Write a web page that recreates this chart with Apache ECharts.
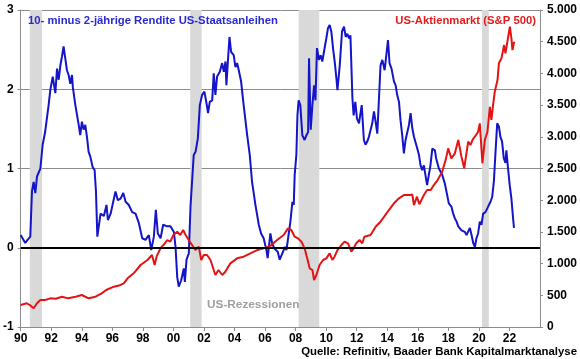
<!DOCTYPE html>
<html>
<head>
<meta charset="utf-8">
<script src="https://cdn.jsdelivr.net/npm/echarts@6/dist/echarts.min.js"></script>
<style>
html,body{margin:0;padding:0;background:#fff;}
#chart{width:580px;height:359px;}
</style>
</head>
<body>
<div id="chart"></div>
<script>
// 10y minus 2y US Treasury spread (left axis, percentage points)
const spreadYears = [1990.0,1990.08,1990.3,1990.45,1990.63,1990.74,1990.85,1990.96,1991.07,1991.29,1991.44,1991.6,1991.83,1991.94,1992.05,1992.1,1992.27,1992.38,1992.49,1992.6,1992.7,1992.81,1992.92,1993.03,1993.14,1993.25,1993.36,1993.42,1993.58,1993.8,1993.9,1994.01,1994.12,1994.23,1994.34,1994.45,1994.56,1994.71,1994.84,1994.93,1995.02,1995.23,1995.35,1995.45,1995.62,1995.71,1995.89,1996.06,1996.21,1996.36,1996.54,1996.72,1996.87,1997.08,1997.3,1997.52,1997.74,1997.96,1998.17,1998.39,1998.55,1998.72,1998.85,1998.98,1999.16,1999.33,1999.59,1999.81,2000.03,2000.14,2000.25,2000.35,2000.51,2000.68,2000.75,2000.86,2001.01,2001.12,2001.33,2001.45,2001.6,2001.73,2001.88,2002.03,2002.17,2002.27,2002.38,2002.54,2002.64,2002.75,2002.86,2003.04,2003.19,2003.3,2003.41,2003.47,2003.56,2003.67,2003.78,2003.95,2004.06,2004.17,2004.28,2004.43,2004.6,2004.83,2005.0,2005.15,2005.37,2005.59,2005.74,2005.91,2006.09,2006.17,2006.35,2006.46,2006.61,2006.83,2006.96,2007.18,2007.29,2007.4,2007.51,2007.66,2007.79,2007.88,2007.94,2008.05,2008.12,2008.2,2008.31,2008.44,2008.59,2008.71,2008.82,2008.88,2008.99,2009.1,2009.21,2009.3,2009.4,2009.53,2009.64,2009.75,2009.9,2010.01,2010.12,2010.23,2010.34,2010.45,2010.56,2010.67,2010.74,2010.89,2011.04,2011.17,2011.28,2011.39,2011.5,2011.59,2011.72,2011.8,2011.91,2012.02,2012.15,2012.33,2012.47,2012.58,2012.69,2012.8,2012.91,2013.02,2013.13,2013.24,2013.35,2013.46,2013.56,2013.68,2013.83,2013.94,2014.05,2014.15,2014.28,2014.44,2014.55,2014.65,2014.77,2014.87,2014.98,2015.09,2015.2,2015.31,2015.42,2015.53,2015.64,2015.75,2015.85,2015.97,2016.08,2016.18,2016.29,2016.4,2016.5,2016.61,2016.72,2016.83,2016.95,2017.12,2017.2,2017.38,2017.6,2017.77,2017.92,2018.03,2018.2,2018.32,2018.43,2018.54,2018.65,2018.76,2018.86,2018.97,2019.08,2019.19,2019.3,2019.41,2019.52,2019.63,2019.74,2019.84,2019.95,2020.06,2020.17,2020.28,2020.43,2020.56,2020.65,2020.76,2020.87,2020.98,2021.09,2021.2,2021.31,2021.41,2021.52,2021.63,2021.74,2021.8,2021.91,2022.02,2022.13,2022.24,2022.3];
const spreadValues = [0.16,0.16,0.06,0.1,0.14,0.71,0.83,0.69,0.9,1.0,1.3,1.46,1.8,1.99,1.97,2.16,1.95,2.26,2.12,2.3,2.41,2.54,2.39,2.24,2.18,2.07,2.18,2.02,1.8,1.55,1.42,1.59,1.49,1.55,1.4,1.21,1.15,1.02,0.98,0.71,0.14,0.43,0.45,0.4,0.54,0.35,0.43,0.58,0.71,0.6,0.62,0.69,0.58,0.54,0.45,0.43,0.31,0.12,0.1,0.16,-0.03,0.14,0.48,0.18,0.12,0.29,0.27,0.27,0.2,0.01,-0.37,-0.49,-0.41,-0.26,-0.43,-0.15,-0.07,0.52,1.17,1.21,1.38,1.8,1.93,1.97,1.82,1.7,1.84,1.86,2.2,1.93,2.16,2.22,2.33,2.22,2.35,2.05,2.33,2.66,2.47,2.43,2.28,2.33,2.24,2.1,1.8,1.42,1.17,0.83,0.54,0.29,0.18,0.12,-0.03,-0.13,0.18,0.06,-0.01,-0.05,-0.15,-0.05,0.01,-0.03,0.12,0.33,0.58,0.54,0.92,1.17,1.67,1.86,1.8,1.42,1.36,1.42,1.46,2.39,1.49,1.8,2.05,1.86,2.52,2.37,2.43,2.35,2.52,2.64,2.77,2.81,2.73,2.52,2.35,2.14,1.99,2.3,2.73,2.79,2.66,2.7,2.64,2.68,1.89,1.67,1.84,1.63,1.57,1.8,1.36,1.3,1.34,1.4,1.38,1.57,1.72,1.59,1.44,1.89,2.3,2.37,2.24,2.43,2.62,2.33,2.26,2.1,2.05,1.93,1.84,1.61,1.42,1.19,1.36,1.36,1.55,1.7,1.51,1.4,1.38,1.25,1.17,1.04,0.98,1.04,0.92,0.79,0.77,1.04,1.25,1.23,1.13,1.0,0.92,0.81,0.67,0.56,0.52,0.43,0.37,0.33,0.27,0.27,0.22,0.2,0.2,0.16,0.18,0.25,0.16,0.06,0.01,0.12,0.18,0.33,0.29,0.43,0.45,0.5,0.48,0.58,0.64,0.83,1.21,1.57,1.53,1.4,1.34,1.13,1.07,1.23,1.0,0.79,0.62,0.37,0.25];

// S&P 500 index level (right axis)
const sp500Years = [1990.0,1990.4,1990.6,1990.85,1991.07,1991.29,1991.6,1991.94,1992.3,1992.7,1993.1,1993.6,1994.0,1994.45,1994.9,1995.3,1995.6,1996.1,1996.5,1996.75,1997.0,1997.4,1997.85,1998.3,1998.6,1998.77,1998.9,1999.15,1999.35,1999.6,1999.8,2000.0,2000.25,2000.45,2000.64,2000.8,2001.0,2001.22,2001.44,2001.66,2001.82,2001.99,2002.2,2002.43,2002.64,2002.75,2002.95,2003.2,2003.4,2003.73,2004.17,2004.6,2005.04,2005.48,2005.91,2006.35,2006.79,2007.22,2007.5,2007.72,2007.94,2008.16,2008.38,2008.59,2008.82,2008.92,2009.1,2009.21,2009.36,2009.57,2009.8,2010.01,2010.23,2010.41,2010.55,2010.74,2011.0,2011.21,2011.43,2011.65,2011.8,2011.97,2012.19,2012.37,2012.5,2012.91,2013.24,2013.56,2013.8,2014.11,2014.44,2014.77,2015.09,2015.5,2015.64,2015.75,2015.95,2016.1,2016.2,2016.4,2016.61,2016.85,2017.05,2017.3,2017.6,2017.85,2017.99,2018.2,2018.43,2018.65,2018.86,2019.04,2019.3,2019.45,2019.6,2019.74,2019.95,2020.06,2020.23,2020.39,2020.56,2020.72,2020.82,2020.93,2021.04,2021.22,2021.31,2021.48,2021.65,2021.74,2021.92,2022.03,2022.13,2022.2,2022.31];
const sp500Values = [347,374,347,295,374,426,426,452,445,478,452,478,505,452,478,531,583,636,660,689,768,847,978,1057,1135,978,1109,1241,1293,1372,1346,1451,1503,1451,1530,1451,1372,1293,1214,1267,1057,1135,1135,1057,899,820,899,820,872,1004,1083,1109,1162,1214,1241,1280,1372,1451,1556,1530,1424,1398,1346,1241,1030,925,899,741,820,978,1057,1083,1162,1057,1109,1214,1293,1346,1320,1188,1241,1320,1372,1320,1424,1451,1582,1661,1740,1845,1951,2030,2082,2082,2090,1924,2055,1935,1935,2082,2160,2160,2239,2318,2449,2660,2818,2660,2739,2949,2686,2503,2923,2870,2960,3001,3080,3212,2582,2949,3080,3474,3265,3501,3711,3895,4159,4237,4447,4316,4578,4736,4553,4368,4500];

// US recessions
const recessionStart = [1990.6, 2001.1, 2008.2, 2020.2];
const recessionEnd   = [1991.4, 2001.85, 2009.55, 2020.65];

const xTickStart = 1990, xTickEnd = 2024, xTickStep = 2;
const leftTicks = { min: -1, max: 3, step: 1 };
const rightTicks = { min: 0, max: 5000, step: 500 };

const spreadData = spreadYears.map((y, i) => [y, spreadValues[i]]);
const sp500Data = sp500Years.map((y, i) => [y, sp500Values[i]]);
const bands = recessionStart.map((s, i) => [{ xAxis: s }, { xAxis: recessionEnd[i] }]);

const FONT = '"Liberation Sans", Arial, sans-serif';
const axisGray = '#8c8c8c';
const chart = echarts.init(document.getElementById('chart'), null, { renderer: 'canvas' });

chart.setOption({
  animation: false,
  backgroundColor: '#ffffff',
  grid: { left: 20, right: 40, top: 10, bottom: 32, containLabel: false },
  xAxis: {
    type: 'value', min: xTickStart, max: xTickEnd, interval: xTickStep,
    axisLine: { show: true, onZero: false, lineStyle: { color: axisGray, width: 1 } },
    axisTick: { show: true, inside: false, length: 4, lineStyle: { color: axisGray } },
    splitLine: { show: false },
    axisLabel: {
      showMaxLabel: false, margin: 6, color: '#000', fontWeight: 'bold', fontSize: 12, fontFamily: FONT,
      formatter: v => String(Math.round(v)).slice(2)
    }
  },
  yAxis: [
    {
      type: 'value', min: leftTicks.min, max: leftTicks.max, interval: leftTicks.step, position: 'left',
      axisLine: { show: true, lineStyle: { color: axisGray } },
      axisTick: { show: true, inside: false, length: 3, lineStyle: { color: axisGray } },
      splitLine: { show: true, lineStyle: { color: '#8c8c8c', width: 1 } },
      axisLabel: { margin: 7, color: '#000', fontWeight: 'bold', fontSize: 12, fontFamily: FONT }
    },
    {
      type: 'value', min: rightTicks.min, max: rightTicks.max, interval: rightTicks.step, position: 'right',
      axisLine: { show: true, lineStyle: { color: axisGray } },
      axisTick: { show: true, inside: false, length: 3, lineStyle: { color: axisGray } },
      splitLine: { show: false },
      axisLabel: {
        margin: 7, color: '#000', fontWeight: 'bold', fontSize: 12, fontFamily: FONT,
        formatter: v => String(v).replace(/\B(?=(\d{3})+(?!\d))/g, '.')
      }
    }
  ],
  series: [
    {
      name: 'Spread', type: 'line', yAxisIndex: 0, data: spreadData, showSymbol: false,
      lineStyle: { color: '#1414c8', width: 2 }, z: 3,
      markArea: { silent: true, itemStyle: { color: '#d9d9d9' }, data: bands },
      markLine: {
        silent: true, symbol: 'none', label: { show: false },
        lineStyle: { color: '#000', width: 2, type: 'solid' },
        data: [{ yAxis: 0 }]
      }
    },
    {
      name: 'S&P 500', type: 'line', yAxisIndex: 1, data: sp500Data, showSymbol: false,
      lineStyle: { color: '#e41414', width: 2 }, z: 4
    }
  ],
  graphic: [
    { type: 'text', z: 100, left: 28, top: 15, style: { text: '10- minus 2-jährige Rendite US-Staatsanleihen', fill: '#2a2ad0', font: 'bold 11.3px ' + FONT } },
    { type: 'text', z: 100, right: 44, top: 15, style: { text: 'US-Aktienmarkt (S&P 500)', fill: '#e41c1c', font: 'bold 11.3px ' + FONT } },
    { type: 'text', z: 100, left: 207, top: 299, style: { text: 'US-Rezessionen', fill: '#a0a0a0', font: 'bold 11.8px ' + FONT } },
    { type: 'text', z: 100, right: 3, top: 346, style: { text: 'Quelle: Refinitiv, Baader Bank Kapitalmarktanalyse', fill: '#000', font: 'bold 11.4px ' + FONT } }
  ]
});
</script>
</body>
</html>
